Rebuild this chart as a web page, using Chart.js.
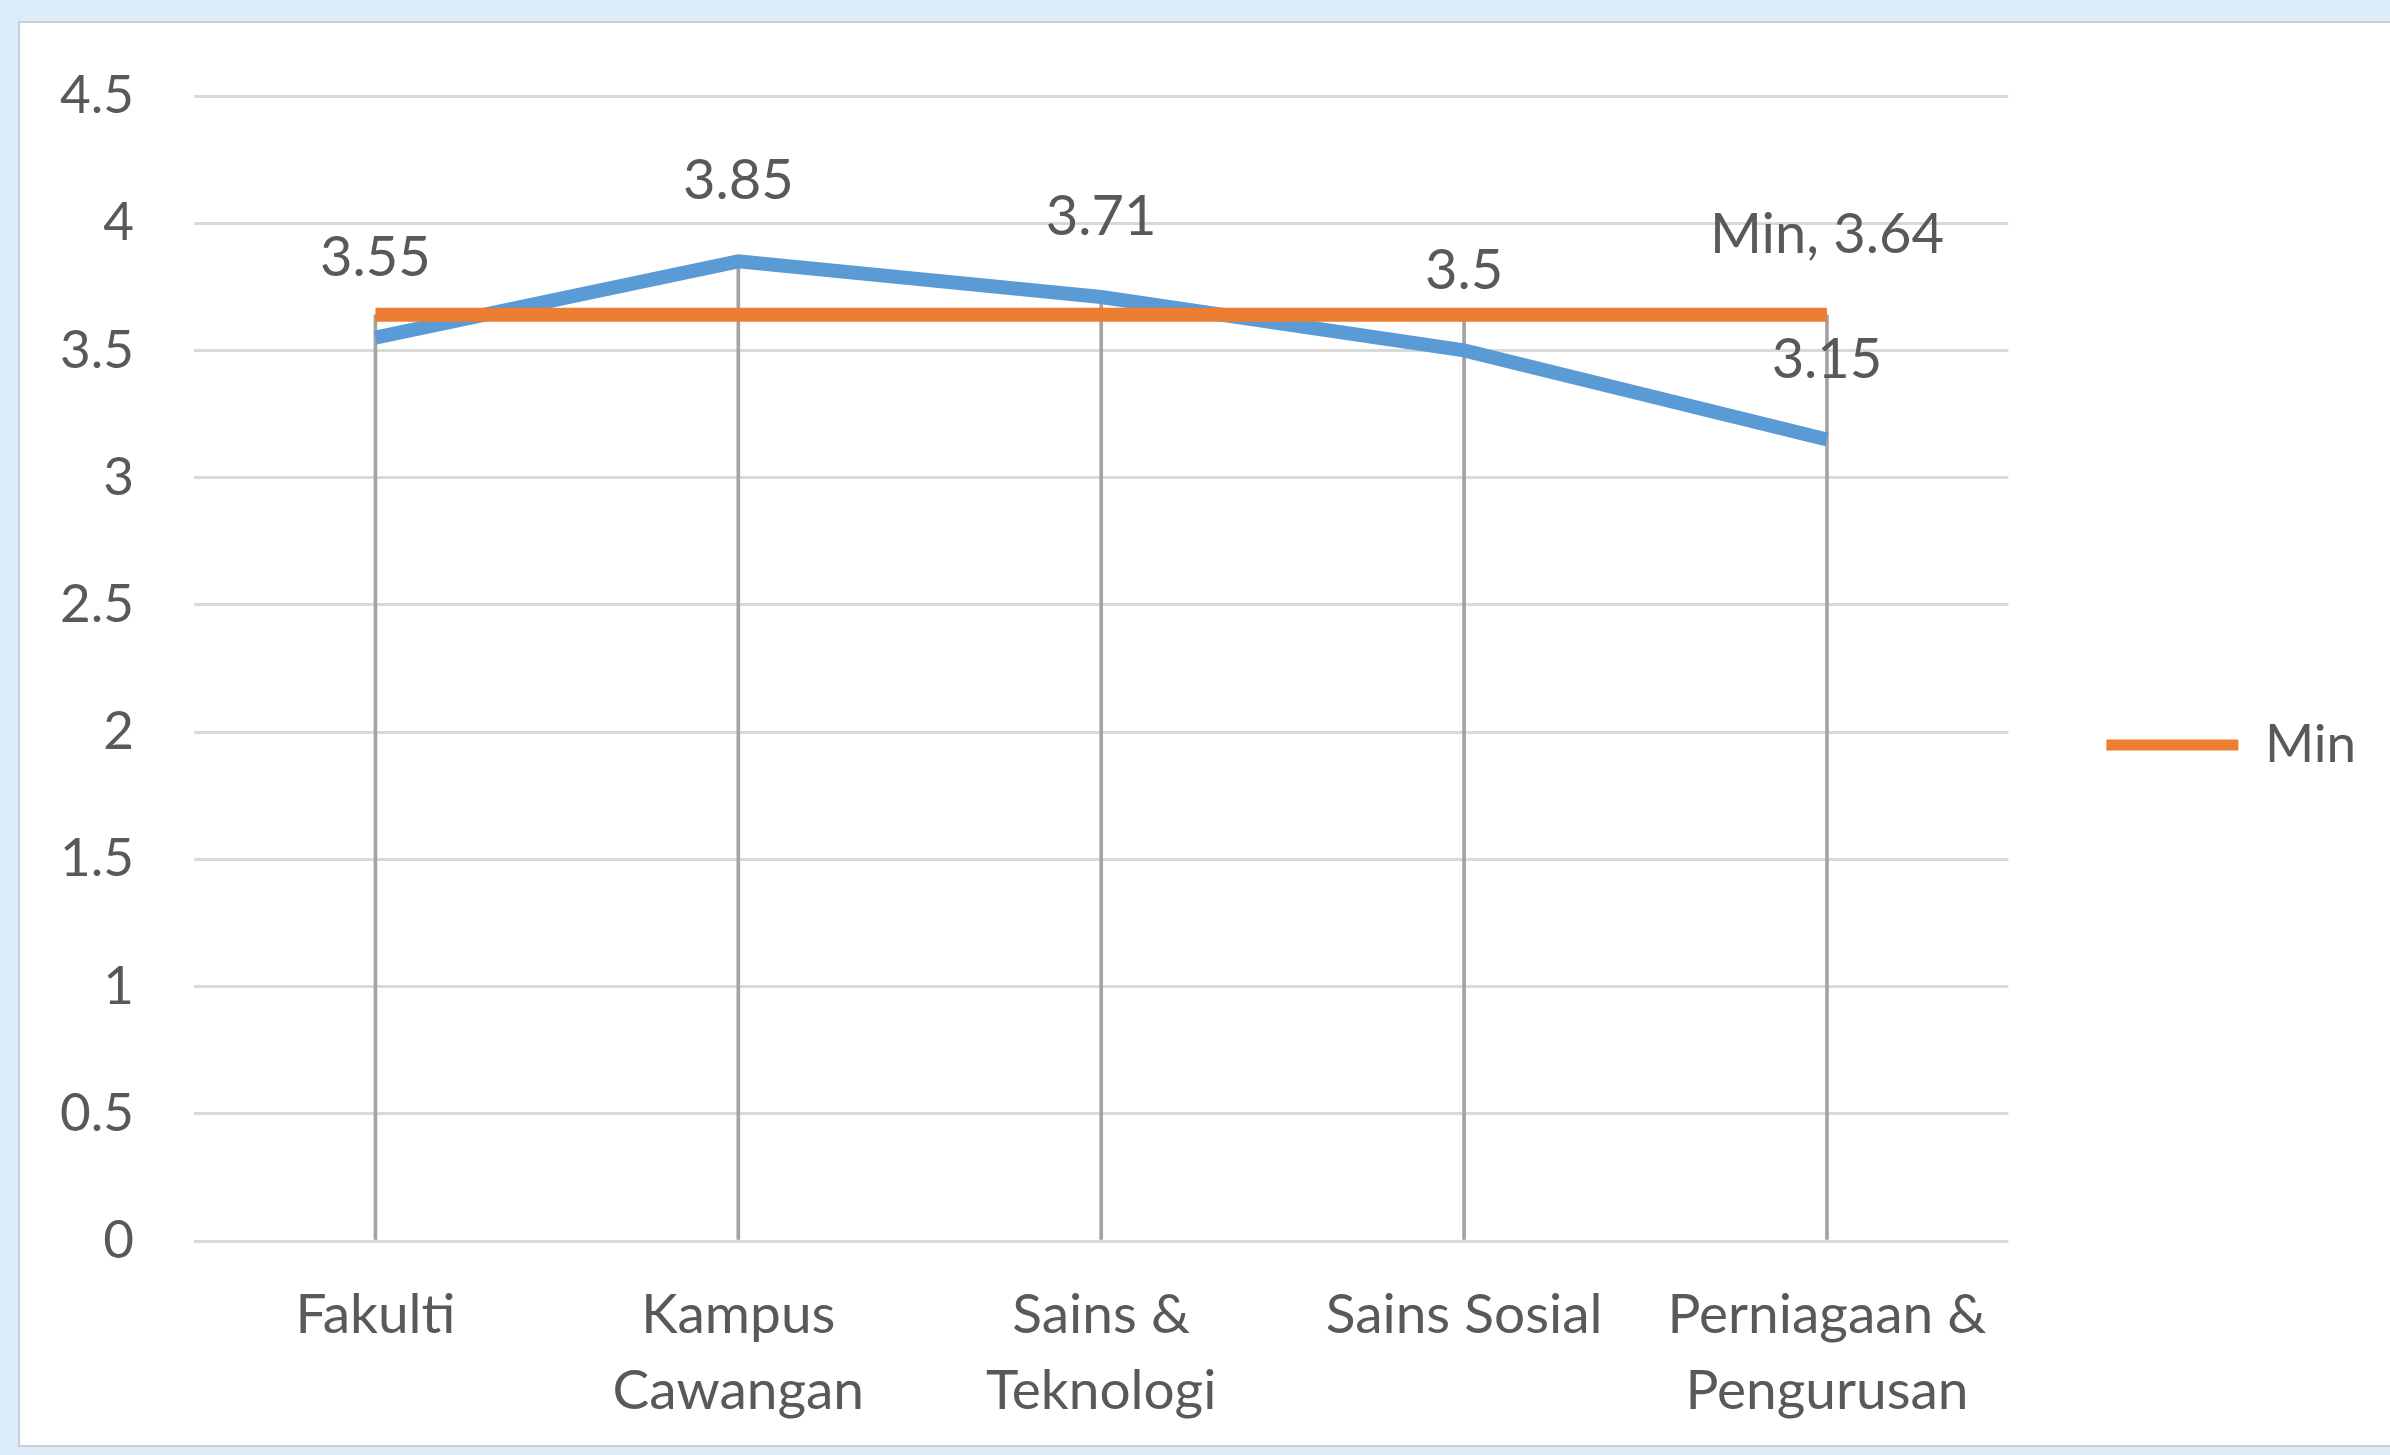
<!DOCTYPE html>
<html>
<head>
<meta charset="utf-8">
<script src="https://cdn.jsdelivr.net/npm/chart.js@4.4.1/dist/chart.umd.min.js"></script>
<style>
  html, body { margin: 0; padding: 0; background: #dcecf8; width: 2390px; height: 1455px; overflow: hidden; }
  #box { position: absolute; left: 18px; top: 21px; width: 2400px; height: 1426px; background: #ffffff; border: 2px solid #c9cfd6; box-sizing: border-box; }
  #wrap { position: absolute; left: 0; top: 0; width: 2390px; height: 1455px; }
</style>
</head>
<body>
<div id="box"></div>
<div id="wrap"><canvas id="c" width="2390" height="1455"></canvas></div>
<script>
const categories = ['Fakulti', ['Kampus', 'Cawangan'], ['Sains &', 'Teknologi'], 'Sains Sosial', ['Perniagaan &', 'Pengurusan']];
const scoreValues = [3.55, 3.85, 3.71, 3.5, 3.15];
const minValues = [3.64, 3.64, 3.64, 3.64, 3.64];
const minLabel = 'Min';
const yTicks = [0, 0.5, 1, 1.5, 2, 2.5, 3, 3.5, 4, 4.5];

const FONT = 'Lato, Carlito, "Open Sans", sans-serif';
const TEXT = '#595959';

const dropData = scoreValues.map((v, i) => [0, Math.max(v, minValues[i])]);

const labelPlugin = {
  id: 'valueLabels',
  afterDatasetsDraw(chart) {
    const ctx = chart.ctx;
    ctx.save();
    ctx.font = '56px ' + FONT;
    ctx.fillStyle = TEXT;
    ctx.textAlign = 'center';
    ctx.textBaseline = 'middle';
    chart.data.datasets.forEach((ds, di) => {
      if (!ds.valueLabels) return;
      const meta = chart.getDatasetMeta(di);
      meta.data.forEach((el, i) => {
        const txt = ds.valueLabels(ds.data[i], i, ds);
        if (txt == null) return;
        ctx.fillText(txt, el.x, el.y - 80);
      });
    });
    ctx.restore();
  }
};

new Chart(document.getElementById('c'), {
  type: 'line',
  data: {
    labels: categories,
    datasets: [
      {
        label: minLabel,
        data: minValues,
        borderColor: '#ed7d31',
        backgroundColor: '#ed7d31',
        borderWidth: 14,
        pointRadius: 0,
        tension: 0,
        order: 0,
        valueLabels: (v, i, ds) => i === ds.data.length - 1 ? minLabel + ', ' + v : null
      },
      {
        label: 'Skor',
        data: scoreValues,
        borderColor: '#5b9bd5',
        backgroundColor: '#5b9bd5',
        borderWidth: 14,
        pointRadius: 0,
        tension: 0,
        order: 1,
        valueLabels: (v) => String(v)
      },
      {
        type: 'bar',
        label: 'drop',
        data: dropData,
        backgroundColor: '#a3a3a3',
        borderWidth: 0,
        barThickness: 3,
        order: 2
      }
    ]
  },
  options: {
    responsive: false,
    animation: false,
    events: [],
    layout: { padding: { top: 96, left: 0, right: 24, bottom: 0 } },
    scales: {
      x: {
        type: 'category',
        offset: true,
        grid: { display: false, drawTicks: false },
        border: { display: false },
        ticks: {
          padding: 37,
          color: TEXT,
          font: { family: FONT, size: 55, lineHeight: 1.37 },
          maxRotation: 0,
          autoSkip: false
        },
        afterFit(scale) { scale.height = 214; }
      },
      y: {
        min: 0,
        max: 4.5,
        afterBuildTicks(scale) { scale.ticks = yTicks.map(v => ({ value: v })); },
        grid: { color: '#d9d9d9', lineWidth: 3, drawTicks: false },
        border: { display: false },
        ticks: {
          padding: 60,
          color: TEXT,
          font: { family: FONT, size: 53 },
          callback: (v) => String(v)
        },
        afterFit(scale) { scale.width = 194; }
      }
    },
    plugins: {
      tooltip: { enabled: false },
      legend: {
        position: 'right',
        fullSize: false,
        title: { display: true, text: '', font: { size: 10, lineHeight: 1 }, padding: { top: 0, bottom: 143 } },
        labels: {
          padding: 98,
          boxWidth: 132,
          boxHeight: 11,
          color: TEXT,
          font: { family: FONT, size: 53 },
          generateLabels(chart) {
            const ds = chart.data.datasets[0];
            return [{ text: ds.label, fillStyle: ds.borderColor, strokeStyle: ds.borderColor, lineWidth: 0, datasetIndex: 0, fontColor: TEXT }];
          }
        }
      }
    }
  },
  plugins: [labelPlugin]
});
</script>
</body>
</html>
